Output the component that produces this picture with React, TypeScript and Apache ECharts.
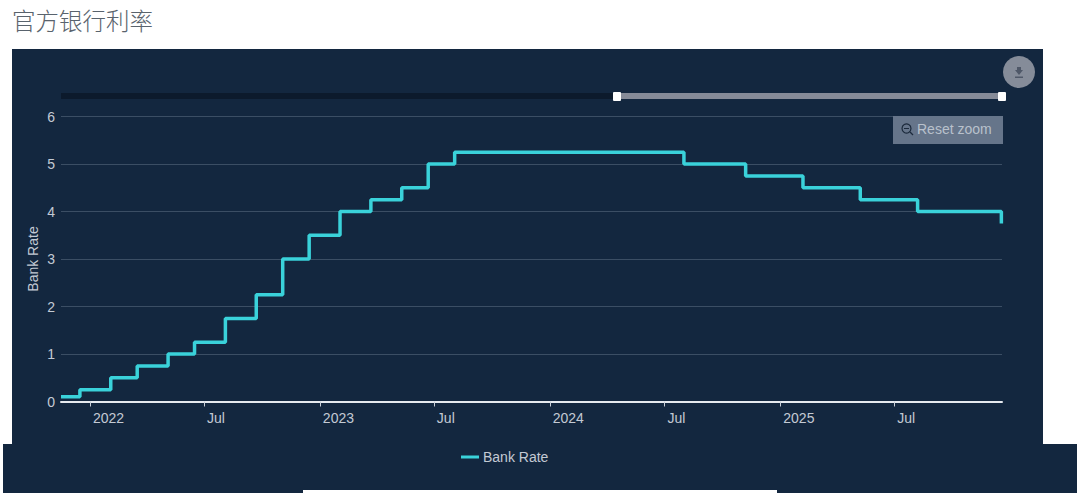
import React, { useEffect, useRef } from "react";
import * as echarts from "echarts";

const TITLE = "官方银行利率";
const SERIES_NAME = "Bank Rate";
const rateDates = [
  "2021-11-16", "2021-12-16", "2022-02-03", "2022-03-17", "2022-05-05", "2022-06-16", "2022-08-04",
  "2022-09-22", "2022-11-03", "2022-12-15", "2023-02-02", "2023-03-23", "2023-05-11", "2023-06-22",
  "2023-08-03", "2024-08-01", "2024-11-07", "2025-02-06", "2025-05-08", "2025-08-07", "2025-12-18",
];
const rateValues = [
  0.1, 0.25, 0.5, 0.75, 1, 1.25, 1.75, 2.25, 3, 3.5, 4, 4.25, 4.5, 5, 5.25, 5, 4.75, 4.5, 4.25, 4, 3.75,
];
const tickDates = ["2022-01-01", "2022-07-01", "2023-01-01", "2023-07-01", "2024-01-01", "2024-07-01", "2025-01-01", "2025-07-01"];
const tickLabels = ["2022", "Jul", "2023", "Jul", "2024", "Jul", "2025", "Jul"];
const yTicks = [0, 1, 2, 3, 4, 5, 6];

const ts = (d: string) => Date.parse(d + "T00:00:00Z");
const FONT = "'Liberation Sans', Arial, sans-serif";
const NAVY = "#13273f";

export default function App() {
  const ref = useRef<HTMLDivElement>(null);
  useEffect(() => {
    const chart = echarts.init(ref.current!, null, { renderer: "svg" });
    const tickTs = tickDates.map(ts);
    chart.setOption({
      animation: false,
      backgroundColor: "#ffffff",
      title: {
        text: TITLE,
        left: 7,
        top: 3,
        textStyle: { fontFamily: "'Noto Sans CJK SC', sans-serif", fontSize: 23.5, fontWeight: 300, color: "#59636d" },
      },
      grid: { left: 61, right: 78, top: 116.5, bottom: 94.5 },
      xAxis: {
        type: "value",
        min: ts("2021-11-16"),
        max: ts("2025-12-19"),
        axisLine: { show: true, onZero: false, lineStyle: { color: "#e6eaef", width: 2 } },
        axisTick: { show: true, length: 5, customValues: tickTs, lineStyle: { color: "#c8cfd8", width: 1 } },
        splitLine: { show: false },
        axisLabel: {
          customValues: tickTs,
          color: "#c3cad4",
          fontFamily: FONT,
          fontSize: 14,
          margin: 9,
          align: "left",
          padding: [0, 0, 0, 3],
          formatter: (v: number) => tickLabels[tickTs.indexOf(v)] ?? "",
        },
      },
      yAxis: {
        type: "value",
        min: yTicks[0],
        max: yTicks[yTicks.length - 1],
        interval: 1,
        name: SERIES_NAME,
        nameLocation: "middle",
        nameGap: 21,
        nameMoveOverlap: false,
        nameTextStyle: { color: "#c3cad4", fontFamily: FONT, fontSize: 14 },
        axisLine: { show: false },
        axisTick: { show: false },
        splitLine: { lineStyle: { color: "#3b4e64", width: 1 } },
        axisLabel: { color: "#c3cad4", fontFamily: FONT, fontSize: 14, margin: 6 },
      },
      legend: {
        left: 456,
        top: 445,
        itemWidth: 18,
        itemHeight: 3,
        itemGap: 4,
        icon: "rect",
        textStyle: { color: "#c3cad4", fontFamily: FONT, fontSize: 14, padding: [0, 0, 0, -1] },
        data: [SERIES_NAME],
      },
      series: [
        {
          name: SERIES_NAME,
          type: "line",
          step: "end",
          showSymbol: false,
          z: 5,
          lineStyle: { color: "#3ad2da", width: 3.5 },
          itemStyle: { color: "#3ad2da" },
          data: rateDates.map((d, i) => [ts(d), rateValues[i]]),
        },
      ],
      graphic: [
        { type: "rect", z: -10, silent: true, shape: { x: 12, y: 49, width: 1031, height: 395 }, style: { fill: NAVY } },
        { type: "rect", z: -10, silent: true, shape: { x: 3, y: 444, width: 1074, height: 49 }, style: { fill: NAVY } },
        { type: "rect", z: -9, silent: true, shape: { x: 303, y: 490, width: 474, height: 3 }, style: { fill: "#ffffff" } },
        // range selector
        { type: "rect", z: 1, silent: true, shape: { x: 61, y: 93, width: 556, height: 6 }, style: { fill: "#0c1a2c" } },
        { type: "rect", z: 1, silent: true, shape: { x: 617, y: 93, width: 385, height: 6 }, style: { fill: "#868b98" } },
        { type: "rect", z: 2, silent: true, shape: { x: 613, y: 92, width: 8, height: 9, r: 1 }, style: { fill: "#ffffff" } },
        { type: "rect", z: 2, silent: true, shape: { x: 998, y: 92, width: 8, height: 9, r: 1 }, style: { fill: "#ffffff" } },
        // reset zoom
        { type: "rect", z: 10, silent: true, shape: { x: 893, y: 116, width: 110, height: 28 }, style: { fill: "#66758a" } },
        { type: "circle", z: 11, silent: true, shape: { cx: 906.5, cy: 128.5, r: 4.5 }, style: { fill: "none", stroke: "#1c2a3c", lineWidth: 1.2 } },
        { type: "line", z: 11, silent: true, shape: { x1: 910, y1: 132, x2: 913, y2: 135 }, style: { stroke: "#1c2a3c", lineWidth: 1.2 } },
        { type: "line", z: 11, silent: true, shape: { x1: 904, y1: 128.5, x2: 909, y2: 128.5 }, style: { stroke: "#1c2a3c", lineWidth: 1 } },
        { type: "text", z: 11, silent: true, style: { x: 917, y: 129, text: "Reset zoom", fill: "#b9c1cc", font: "14px 'Liberation Sans', Arial, sans-serif", verticalAlign: "middle" } },
        // download button
        { type: "circle", z: 10, silent: true, shape: { cx: 1019, cy: 72, r: 16 }, style: { fill: "#858c99" } },
        { type: "polygon", z: 11, silent: true, shape: { points: [[1017, 67], [1021, 67], [1021, 70], [1023, 70], [1019, 75], [1015, 70], [1017, 70]] }, style: { fill: "#4f5868" } },
        { type: "rect", z: 11, silent: true, shape: { x: 1015, y: 76.5, width: 8, height: 1.5 }, style: { fill: "#4f5868" } },
      ],
    });
    return () => chart.dispose();
  }, []);
  return <div ref={ref} style={{ position: "fixed", left: 0, top: 0, width: 1080, height: 496 }} />;
}
